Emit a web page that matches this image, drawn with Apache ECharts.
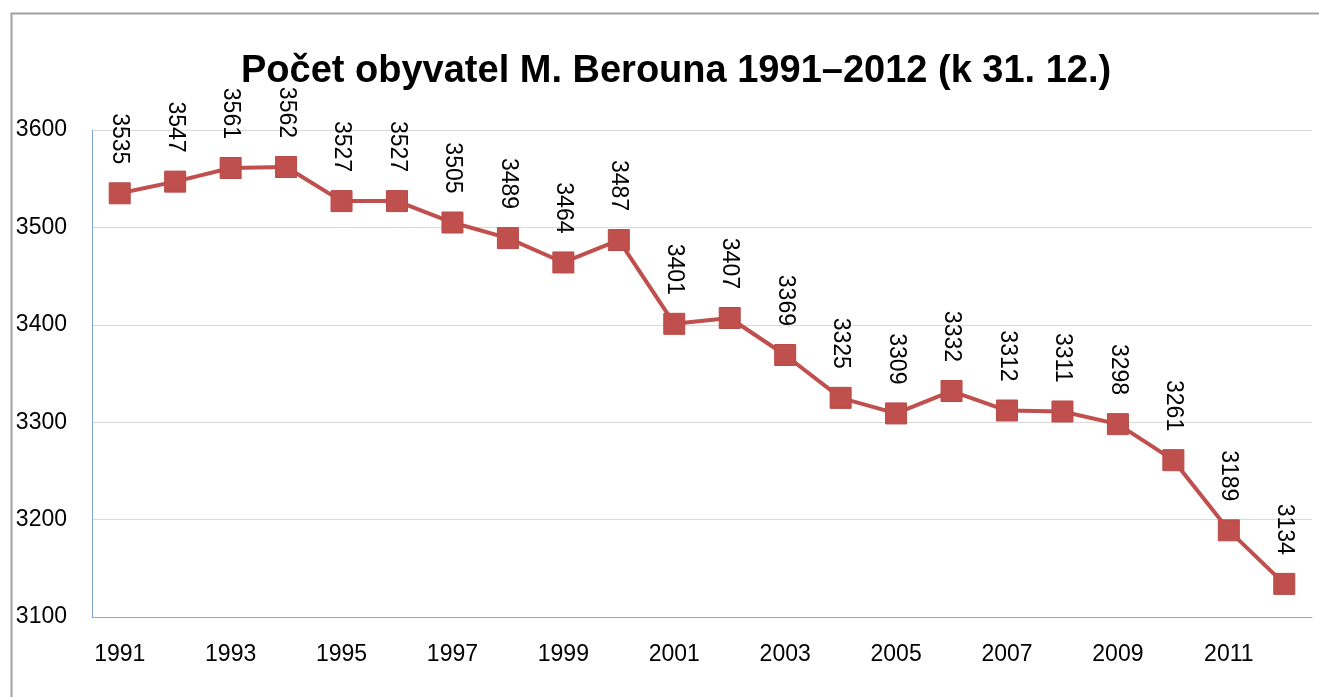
<!DOCTYPE html>
<html>
<head>
<meta charset="utf-8">
<script src="https://cdn.jsdelivr.net/npm/echarts@6/dist/echarts.min.js"></script>
<style>
  html, body { margin: 0; padding: 0; background: #fff; }
  #chart { width: 1319px; height: 697px; }
</style>
</head>
<body>
<div id="chart"></div>
<script>
'use strict';

const years = ['1991', '1992', '1993', '1994', '1995', '1996', '1997', '1998', '1999', '2000', '2001',
    '2002', '2003', '2004', '2005', '2006', '2007', '2008', '2009', '2010', '2011', '2012'];
const population = [3535, 3547, 3561, 3562, 3527, 3527, 3505, 3489, 3464, 3487, 3401,
    3407, 3369, 3325, 3309, 3332, 3312, 3311, 3298, 3261, 3189, 3134];

(function () {
    const container = document.getElementById('chart');
    const fontFamily = '"Liberation Sans", Arial, sans-serif';
    const options = {
        animation: false,
        textStyle: { fontFamily },
        title: {
            text: 'Počet obyvatel M. Berouna 1991–2012 (k 31. 12.)',
            left: 236,
            top: 48,
            textStyle: {
                fontFamily,
                fontSize: 38,
                fontWeight: 'bold',
                color: '#000'
            }
        },
        graphic: [
            {
                type: 'rect',
                left: 9,
                top: 11,
                shape: { width: 1340, height: 720 },
                style: { fill: 'none', stroke: '#a0a0a0', lineWidth: 2 },
                silent: true
            }
        ],
        grid: {
            left: 92,
            right: 7,
            top: 130,
            bottom: 80,
            containLabel: false
        },
        xAxis: {
            type: 'category',
            boundaryGap: true,
            data: years,
            axisLine: { lineStyle: { color: '#a6a6a6', width: 1 } },
            axisTick: { show: false },
            axisLabel: {
                interval: 1,
                margin: 26,
                fontSize: 23,
                color: '#000',
                fontFamily
            }
        },
        yAxis: {
            type: 'value',
            min: 3100,
            max: 3600,
            interval: 100,
            axisLine: { show: true, lineStyle: { color: '#7fa6d6', width: 1 } },
            axisTick: { show: false },
            axisLabel: {
                margin: 25,
                fontSize: 23,
                color: '#000',
                fontFamily,
                formatter: value => String(value)
            },
            splitLine: { lineStyle: { color: '#d9d9d9', width: 1 } }
        },
        series: [
            {
                name: 'Počet obyvatel',
                type: 'line',
                data: population,
                symbol: 'rect',
                symbolSize: 21,
                lineStyle: { color: '#c0504d', width: 4 },
                itemStyle: { color: '#c0504d', borderColor: '#b84a47', borderWidth: 1 },
                label: {
                    show: true,
                    position: 'top',
                    distance: 18,
                    rotate: -90,
                    align: 'right',
                    verticalAlign: 'middle',
                    fontSize: 23,
                    color: '#000',
                    fontFamily
                }
            }
        ]
    };

    const chart = echarts.init(container);
    chart.setOption(options);
})();
</script>
</body>
</html>
